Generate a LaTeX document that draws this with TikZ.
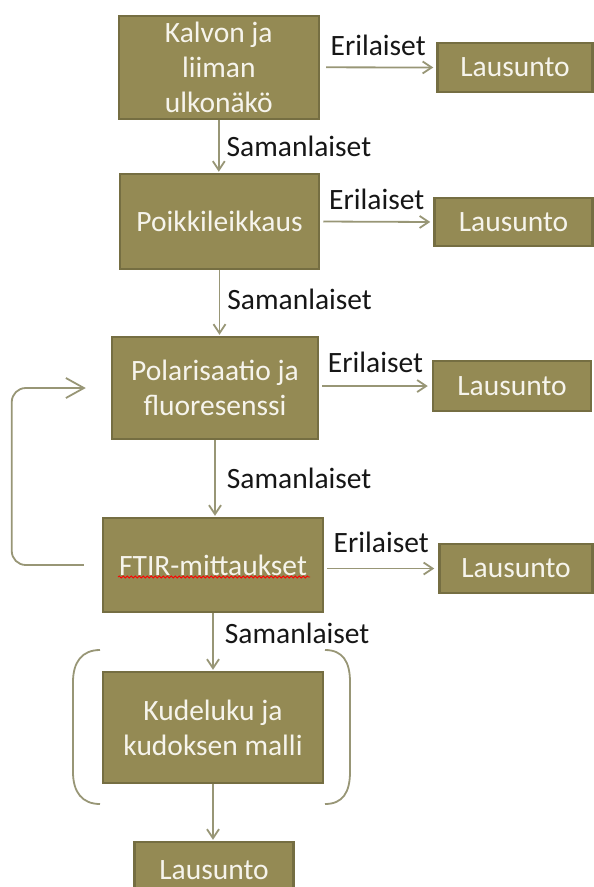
\documentclass[tikz,border=0pt]{standalone}
\usepackage{fontspec}
\setmainfont{Carlito}
\usetikzlibrary{arrows.meta,decorations.pathmorphing}

\definecolor{boxfill}{RGB}{148,138,84}
\definecolor{boxline}{RGB}{117,110,66}
\definecolor{boxtext}{RGB}{246,244,236}
\definecolor{arrowcol}{RGB}{152,150,118}
\definecolor{labeltext}{RGB}{22,22,22}

\begin{document}
\begin{tikzpicture}[x=1pt,y=-1pt,
    box/.style={draw=boxline,line width=2.5pt,fill=boxfill,text=boxtext,align=center,inner sep=0pt,font=\fontsize{29.5}{35}\selectfont},
    link/.style={draw=arrowcol,line width=1.8pt,-{Straight Barb[length=9pt,width=12pt]}},
    lbl/.style={text=labeltext,inner sep=2pt,font=\fontsize{29.5}{35}\selectfont},
    bracket/.style={draw=arrowcol,line width=1.8pt}]
    \useasboundingbox (0,0) rectangle (594,887);

    % steps
    \node[box,minimum width=200pt,minimum height=103pt] (kalvo) at (218.8,67.3) {Kalvon ja\\liiman\\ulkonäkö};
    \node[box,minimum width=199pt,minimum height=95pt] (poikki) at (219.5,221.5) {Poikkileikkaus};
    \node[box,minimum width=206pt,minimum height=102pt] (polar) at (215,388) {Polarisaatio ja\\fluoresenssi};
    \node[box,minimum width=220pt,minimum height=94pt] (ftir) at (213,565) {FTIR-mittaukset};
    \node[box,minimum width=220pt,minimum height=111pt] (kude) at (213,727.5) {Kudeluku ja\\kudoksen malli};

    % statements
    \node[box,minimum width=155pt,minimum height=49pt] (lau1) at (515,67.5) {Lausunto};
    \node[box,minimum width=158pt,minimum height=48pt] (lau2) at (513.5,222) {Lausunto};
    \node[box,minimum width=158pt,minimum height=50pt] (lau3) at (512,386) {Lausunto};
    \node[box,minimum width=153pt,minimum height=49pt] (lau4) at (516,568.5) {Lausunto};
    \node[box,minimum width=159pt,minimum height=56pt] (lau5) at (214,870) {Lausunto};

    % spell check squiggle
    \draw[red,line width=0.8pt,decorate,decoration={snake,segment length=4pt,amplitude=1pt}] (118,577) -- (310,577);

    % Erilaiset
    \draw[link,shorten <=6pt,shorten >=3pt] (kalvo.east) -- node[lbl,above=9pt] (eri1) {Erilaiset} (lau1.west);
    \draw[link,shorten <=3pt,shorten >=3pt] (poikki.east) -- node[lbl,above=9pt] (eri2) {Erilaiset} (lau2.west);
    \draw[link,shorten <=3pt,shorten >=4pt] (polar.east |- lau3.west) -- node[lbl,above=10pt] (eri3) {Erilaiset} (lau3.west);
    \draw[link,shorten <=3pt,shorten >=4pt] (ftir.east |- lau4.west) -- node[lbl,above=13pt] (eri4) {Erilaiset} (lau4.west);

    % Samanlaiset
    \draw[link,shorten >=1pt] (kalvo.south) -- node[lbl,right=5pt] (sam1) {Samanlaiset} (kalvo.south |- poikki.north);
    \draw[link,shorten >=1pt] (poikki.south) -- node[lbl,right=5pt,pos=.45] (sam2) {Samanlaiset} (poikki.south |- polar.north);
    \draw[link,shorten >=1pt] (polar.south) -- node[lbl,right=9pt] (sam3) {Samanlaiset} (polar.south |- ftir.north);
    \draw[link,shorten >=1pt] (ftir.south) -- node[lbl,right=9pt,pos=.35] (sam4) {Samanlaiset} (ftir.south |- kude.north);
    \draw[link,shorten >=1pt] (kude.south) -- (kude.south |- lau5.north);

    % back to polarisation
    \draw[draw=arrowcol,line width=1.8pt,rounded corners=14pt,shorten <=18pt,shorten >=25pt,-{Straight Barb[length=18pt,width=20pt]}]
        (ftir.west) -- ++(-90,0) |- (polar.west);

    % brackets
    \draw[bracket] (100,650) .. controls (82,650) and (73,662) .. (73,682) -- (73,772) .. controls (73,792) and (82,804) .. (100,804);
    \draw[bracket] (325,650) .. controls (343,650) and (350,662) .. (350,682) -- (350,772) .. controls (350,792) and (343,804) .. (325,804);
\end{tikzpicture}
\end{document}
